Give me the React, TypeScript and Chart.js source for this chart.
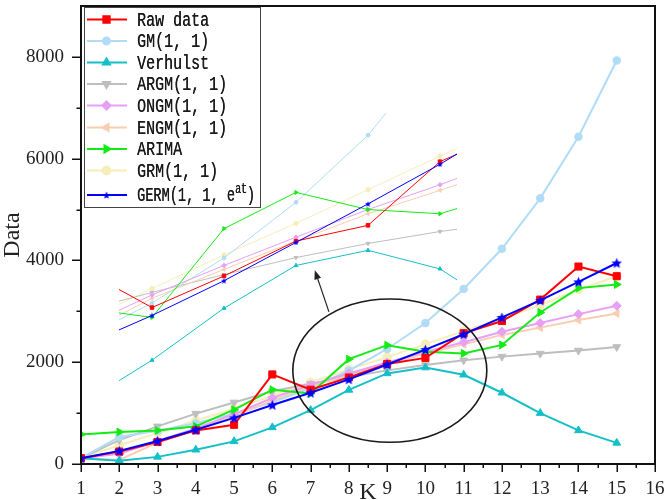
import React, { useEffect, useRef } from 'react';
import { Chart, registerables } from 'chart.js';
import { drawPoint } from 'chart.js/helpers';

Chart.register(...registerables);

// ---------------- data ----------------
const K = [1, 2, 3, 4, 5, 6, 7, 8, 9, 10, 11, 12, 13, 14, 15];
const rawData = [115, 245, 433, 660, 770, 1760, 1460, 1700, 1965, 2085, 2569, 2810, 3230, 3880, 3690];
const gm11 = [115, 530, 652, 802, 987, 1214, 1494, 1837, 2260, 2770, 3440, 4230, 5220, 6430, 7930];
const verhulst = [115, 65, 140, 280, 445, 720, 1060, 1455, 1780, 1895, 1754, 1400, 1000, 660, 415];
const argm11 = [115, 470, 740, 990, 1210, 1430, 1575, 1710, 1840, 1947, 2038, 2110, 2170, 2230, 2300];
const ongm11 = [115, 200, 450, 700, 980, 1300, 1556, 1780, 1995, 2205, 2393, 2600, 2770, 2945, 3110];
const engm11 = [115, 80, 420, 670, 940, 1250, 1530, 1750, 1965, 2173, 2351, 2537, 2680, 2829, 2958];
const arima = [582, 630, 660, 740, 1068, 1460, 1385, 2060, 2335, 2205, 2173, 2340, 2977, 3456, 3528];
const grm11 = [115, 369, 608, 854, 1080, 1340, 1605, 1860, 2100, 2356, 2611, 2860, 3120, 3430, 3690];
const germ11 = [115, 258, 452, 673, 906, 1160, 1400, 1664, 1955, 2248, 2549, 2880, 3215, 3580, 3950];

const X_MIN = 1;
const X_MAX = 16;
const Y_MIN = 0;
const Y_MAX = 9000;
const X_TICKS = [1, 2, 3, 4, 5, 6, 7, 8, 9, 10, 11, 12, 13, 14, 15, 16];
const Y_TICKS = [0, 2000, 4000, 6000, 8000];
const Y_MINOR_TICKS = [1000, 3000, 5000, 7000];
const X_TITLE = 'K';
const Y_TITLE = 'Data';

// magnified inset: axis windows of the hidden inset scales
const INSET_X = [6.014, 13.986];
const INSET_Y = [271, 3752];

// annotation (data coordinates)
const ELLIPSE = { cx: 9.07, cy: 1835, rx: 2.535, ry: 1408 };
const ARROW_FROM = [7.48, 2990];
const ARROW_TO = [7.11, 3806];

type Series = {
  label: string;
  data: number[];
  color: string;
  style: string;
  rot: number;
  r: number;
  order: number;
};

const SERIES: Series[] = [
  { label: 'Raw data', data: rawData, color: 'rgb(255,0,0)', style: 'rect', rot: 0, r: 5, order: 1 },
  { label: 'GM(1, 1)', data: gm11, color: 'rgb(176,220,246)', style: 'circle', rot: 0, r: 3.8, order: 7 },
  { label: 'Verhulst', data: verhulst, color: 'rgb(20,192,200)', style: 'triangle', rot: 0, r: 4.5, order: 3 },
  { label: 'ARGM(1, 1)', data: argm11, color: 'rgb(190,190,190)', style: 'triangle', rot: 180, r: 4.5, order: 8 },
  { label: 'ONGM(1, 1)', data: ongm11, color: 'rgb(230,160,245)', style: 'rectRot', rot: 0, r: 4.5, order: 5 },
  { label: 'ENGM(1, 1)', data: engm11, color: 'rgb(250,205,178)', style: 'triangle', rot: -90, r: 4.5, order: 6 },
  { label: 'ARIMA', data: arima, color: 'rgb(20,235,20)', style: 'triangle', rot: 90, r: 4.5, order: 2 },
  { label: 'GRM(1, 1)', data: grm11, color: 'rgb(246,238,185)', style: 'circle', rot: 0, r: 4.3, order: 9 },
  { label: 'GERM(1, 1, e^at)', data: germ11, color: 'rgb(0,0,255)', style: 'star', rot: 0, r: 5, order: 0 },
];

function makeStar(size: number, color: string) {
  const c = document.createElement('canvas');
  c.width = size;
  c.height = size;
  const g = c.getContext('2d')!;
  const R = size / 2;
  const r = R * 0.45;
  const cx = size / 2;
  const cy = size / 2 + size * 0.05;
  g.beginPath();
  for (let i = 0; i < 10; i++) {
    const ang = -Math.PI / 2 + (i * Math.PI) / 5;
    const rad = i % 2 === 0 ? R : r;
    g.lineTo(cx + rad * Math.cos(ang), cy + rad * Math.sin(ang));
  }
  g.closePath();
  g.fillStyle = color;
  g.fill();
  return c;
}

const LEGEND_BOX = { left: 84, top: 7, right: 260, bottom: 207 };
const LEGEND_ROWS = [19.5, 41, 62.5, 84, 105.5, 127.5, 149, 170.5, 195];

export default function App() {
  const ref = useRef<HTMLCanvasElement | null>(null);

  useEffect(() => {
    document.body.style.margin = '0';
    const canvas = ref.current;
    if (!canvas) return;

    const starMain = makeStar(11, 'rgb(0,0,255)');
    const starInset = makeStar(6, 'rgb(0,0,255)');
    const starLegend = makeStar(8, 'rgb(0,0,255)');

    const mainSets = SERIES.map((s) => ({
      label: s.label,
      data: s.data.map((v, i) => ({ x: K[i], y: v })),
      borderColor: s.color,
      backgroundColor: s.color,
      pointStyle: s.style === 'star' ? starMain : s.style,
      pointRotation: s.rot,
      pointRadius: s.r,
      pointBorderWidth: 1,
      borderWidth: 2,
      order: s.order,
      xAxisID: 'x',
      yAxisID: 'y',
    }));

    const insetSets = SERIES.map((s) => ({
      label: s.label + ' (inset)',
      data: s.data.map((v, i) => ({ x: K[i], y: v })),
      borderColor: s.color,
      backgroundColor: s.color,
      pointStyle: s.style === 'star' ? starInset : s.style,
      pointRotation: s.rot,
      pointRadius: s.r * 0.5,
      pointBorderWidth: 1,
      borderWidth: 1,
      order: s.order + 20,
      xAxisID: 'x2',
      yAxisID: 'y2',
      clip: { left: -38, right: -198, top: -107, bottom: 0 },
    }));

    const overlay = {
      id: 'overlay',
      afterDatasetsDraw(chart: any) {
        const { ctx, chartArea: a, scales } = chart;
        const xs = scales.x;
        const ys = scales.y;
        ctx.save();

        // ellipse
        const cx = xs.getPixelForValue(ELLIPSE.cx);
        const cy = ys.getPixelForValue(ELLIPSE.cy);
        const rx = Math.abs(xs.getPixelForValue(ELLIPSE.cx + ELLIPSE.rx) - cx);
        const ry = Math.abs(ys.getPixelForValue(ELLIPSE.cy + ELLIPSE.ry) - cy);
        ctx.beginPath();
        ctx.ellipse(cx, cy, rx, ry, 0, 0, Math.PI * 2);
        ctx.lineWidth = 1.6;
        ctx.strokeStyle = '#1a1a1a';
        ctx.stroke();

        // arrow
        const x1 = xs.getPixelForValue(ARROW_FROM[0]);
        const y1 = ys.getPixelForValue(ARROW_FROM[1]);
        const x2 = xs.getPixelForValue(ARROW_TO[0]);
        const y2 = ys.getPixelForValue(ARROW_TO[1]);
        const ang = Math.atan2(y2 - y1, x2 - x1);
        const hl = 9;
        const hw = 3.5;
        ctx.beginPath();
        ctx.moveTo(x1, y1);
        ctx.lineTo(x2 - Math.cos(ang) * hl * 0.8, y2 - Math.sin(ang) * hl * 0.8);
        ctx.lineWidth = 1.2;
        ctx.strokeStyle = '#222';
        ctx.stroke();
        ctx.beginPath();
        ctx.moveTo(x2, y2);
        ctx.lineTo(x2 - Math.cos(ang) * hl + Math.sin(ang) * hw, y2 - Math.sin(ang) * hl - Math.cos(ang) * hw);
        ctx.lineTo(x2 - Math.cos(ang) * hl - Math.sin(ang) * hw, y2 - Math.sin(ang) * hl + Math.cos(ang) * hw);
        ctx.closePath();
        ctx.fillStyle = '#222';
        ctx.fill();

        // frame
        ctx.lineWidth = 2;
        ctx.strokeStyle = '#111';
        ctx.strokeRect(a.left, a.top, a.right - a.left, a.bottom - a.top);

        // ticks
        ctx.lineWidth = 1.5;
        for (let v = X_MIN; v <= X_MAX + 1e-9; v += 0.5) {
          const px = Math.round(xs.getPixelForValue(v)) + 0.25;
          const len = Math.abs(v - Math.round(v)) < 1e-9 ? 8 : 4;
          ctx.beginPath();
          ctx.moveTo(px, a.bottom);
          ctx.lineTo(px, a.bottom + len);
          ctx.stroke();
        }
        const yTickMarks = [...Y_TICKS.map((v) => [v, 9]), ...Y_MINOR_TICKS.map((v) => [v, 4.5])];
        yTickMarks.forEach(([v, len]) => {
          const py = Math.round(ys.getPixelForValue(v)) + 0.25;
          ctx.beginPath();
          ctx.moveTo(a.left - len, py);
          ctx.lineTo(a.left, py);
          ctx.stroke();
        });

        // axis titles
        ctx.fillStyle = '#222';
        ctx.font = '24px "Liberation Serif"';
        ctx.textAlign = 'center';
        ctx.textBaseline = 'alphabetic';
        ctx.fillText(X_TITLE, (a.left + a.right) / 2, 499);
        ctx.save();
        ctx.translate(19, (a.top + a.bottom) / 2);
        ctx.rotate(-Math.PI / 2);
        ctx.fillText(Y_TITLE, 0, 0);
        ctx.restore();

        // legend
        const B = LEGEND_BOX;
        ctx.fillStyle = '#ffffff';
        ctx.fillRect(B.left, B.top, B.right - B.left, B.bottom - B.top);
        ctx.lineWidth = 1;
        ctx.strokeStyle = '#444';
        ctx.strokeRect(B.left + 0.5, B.top + 0.5, B.right - B.left, B.bottom - B.top);
        SERIES.forEach((s, i) => {
          const yc = LEGEND_ROWS[i];
          ctx.beginPath();
          ctx.moveTo(B.left + 3, yc);
          ctx.lineTo(B.left + 43, yc);
          ctx.lineWidth = 2;
          ctx.strokeStyle = s.color;
          ctx.stroke();
          ctx.fillStyle = s.color;
          drawPoint(
            ctx,
            {
              pointStyle: s.style === 'star' ? starLegend : s.style,
              rotation: s.rot,
              radius: s.r * 0.9,
              borderWidth: 1,
            } as any,
            B.left + 22.5,
            yc,
          );
          // text
          ctx.save();
          ctx.fillStyle = '#1a1a1a';
          ctx.textAlign = 'left';
          ctx.textBaseline = 'middle';
          const big = '15px "Liberation Mono"';
          const small = '11px "Liberation Mono"';
          const sup = s.label.indexOf('^');
          let parts: { t: string; f: string; dy: number }[];
          if (sup < 0) parts = [{ t: s.label, f: big, dy: 0 }];
          else {
            const rest = s.label.slice(sup + 1);
            parts = [
              { t: s.label.slice(0, sup), f: big, dy: 0 },
              { t: rest.slice(0, rest.length - 1), f: small, dy: -5 },
              { t: rest.slice(rest.length - 1), f: big, dy: 0 },
            ];
          }
          let W = 0;
          parts.forEach((p) => {
            ctx.font = p.f;
            W += ctx.measureText(p.t).width;
          });
          const maxW = B.right - (B.left + 53) - 5;
          const f = Math.min(1, maxW / W);
          ctx.translate(B.left + 53, yc + 1);
          ctx.scale(f, 1.3);
          let xx = 0;
          parts.forEach((p) => {
            ctx.font = p.f;
            ctx.fillText(p.t, xx, p.dy);
            ctx.fillText(p.t, xx + 0.3, p.dy);
            xx += ctx.measureText(p.t).width;
          });
          ctx.restore();
        });

        ctx.restore();
      },
    };

    const chart = new Chart(canvas, {
      type: 'line',
      data: { datasets: [...mainSets, ...insetSets] as any },
      options: {
        responsive: false,
        animation: false,
        events: [],
        layout: { padding: { left: 0, right: 11, top: 1, bottom: 0 } },
        plugins: { legend: { display: false }, tooltip: { enabled: false } },
        scales: {
          x: {
            type: 'linear',
            position: 'bottom',
            min: X_MIN,
            max: X_MAX,
            afterBuildTicks(s: any) {
              s.ticks = X_TICKS.map((v) => ({ value: v }));
            },
            afterFit(s: any) {
              s.height = 36;
              s.paddingLeft = 0;
              s.paddingRight = 0;
            },
            grid: { display: false, drawTicks: false },
            border: { display: false },
            ticks: {
              autoSkip: false,
              maxRotation: 0,
              padding: 14,
              color: '#222',
              font: { family: 'Liberation Serif', size: 19 },
              callback: (v: number) => String(v),
            },
          },
          y: {
            type: 'linear',
            position: 'left',
            min: Y_MIN,
            max: Y_MAX,
            afterBuildTicks(s: any) {
              s.ticks = Y_TICKS.map((v) => ({ value: v }));
            },
            afterFit(s: any) {
              s.width = 81;
              s.paddingTop = 0;
              s.paddingBottom = 0;
            },
            grid: { display: false, drawTicks: false },
            border: { display: false },
            ticks: {
              autoSkip: false,
              padding: 17,
              color: '#222',
              font: { family: 'Liberation Serif', size: 19 },
              callback: (v: number) => String(v),
            },
          },
          x2: { type: 'linear', position: 'bottom', display: false, min: INSET_X[0], max: INSET_X[1] },
          y2: { type: 'linear', position: 'left', display: false, min: INSET_Y[0], max: INSET_Y[1] },
        },
      } as any,
      plugins: [overlay],
    });
    return () => chart.destroy();
  }, []);

  return (
    <div style={{ width: 666, height: 500 }}>
      <style>{'body{margin:0}'}</style>
      <canvas ref={ref} width={666} height={500} style={{ display: 'block' }} />
    </div>
  );
}
